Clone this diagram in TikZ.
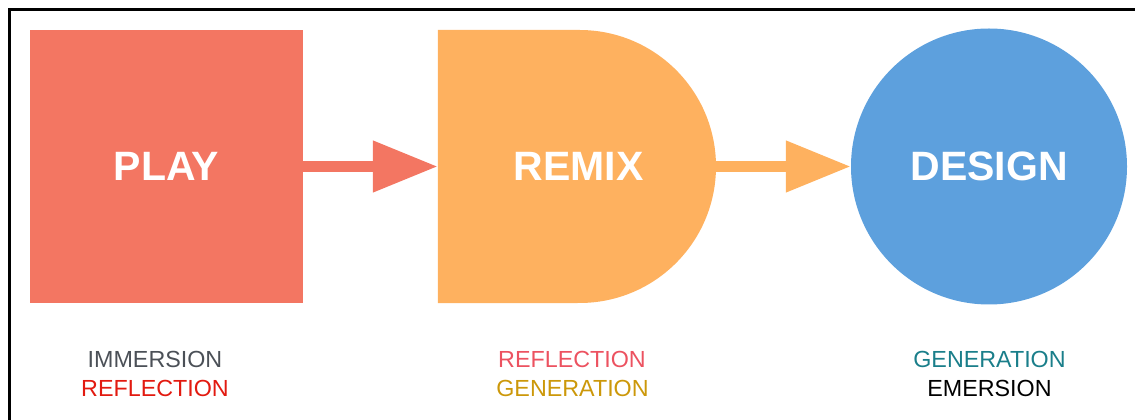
\documentclass[tikz,border=0pt]{standalone}
\usepackage{fontspec}
\setmainfont{Liberation Sans}
\usetikzlibrary{arrows.meta}
\definecolor{playred}{RGB}{243,118,98}
\definecolor{remixorange}{RGB}{254,177,95}
\definecolor{designblue}{RGB}{93,160,221}
\definecolor{txtgray}{RGB}{75,80,87}
\definecolor{txtred}{RGB}{226,26,16}
\definecolor{txtpink}{RGB}{236,82,96}
\definecolor{txtgold}{RGB}{204,152,10}
\definecolor{txtteal}{RGB}{26,126,138}
\tikzset{
  stagetext/.style={text=white, font=\fontsize{41}{41}\selectfont\bfseries, inner sep=0pt},
  caption/.style={anchor=base, inner sep=0pt, font=\fontsize{23.3}{23.3}\selectfont},
  flow/.style={line width=11pt, -{Triangle[length=65pt 0 0, width=49pt 0 0]}},
}
\begin{document}
\begin{tikzpicture}[x=1pt, y=1pt]
  \useasboundingbox (0,0) rectangle (1135,420);
  % partial frame
  \draw[line width=2.8pt] (9.2,0) -- (9.2,410.8) -- (1135,410.8);

  % stages
  \node[stagetext, fill=playred, minimum width=273pt, minimum height=273pt] (play) at (166.5,253.5) {PLAY};
  \node[inner sep=0pt, minimum width=278pt, minimum height=273pt] (remix) at (577,253.5) {};
  \fill[remixorange] (remix.north west) -- (579.5,390) arc[start angle=90, end angle=-90, radius=136.5] -- (remix.south west) -- cycle;
  \node[stagetext] (remixlabel) at (578.5,253.5) {REMIX};
  \node[stagetext, circle, fill=designblue, minimum size=276pt] (design) at (989,253.5) {DESIGN};

  % connectors
  \draw[flow, playred] (play.east) -- (remix.west);
  \draw[flow, remixorange] (remix.east) -- (design.west);

  % captions
  \node[caption, text=txtgray] (c1a) at (155,52) {IMMERSION};
  \node[caption, text=txtred] (c1b) at (155,23.5) {REFLECTION};
  \node[caption, text=txtpink] (c2a) at (572,52) {REFLECTION};
  \node[caption, text=txtgold] (c2b) at (572.5,23.5) {GENERATION};
  \node[caption, text=txtteal] (c3a) at (989.5,52) {GENERATION};
  \node[caption, text=black] (c3b) at (989.5,23.5) {EMERSION};
\end{tikzpicture}
\end{document}
